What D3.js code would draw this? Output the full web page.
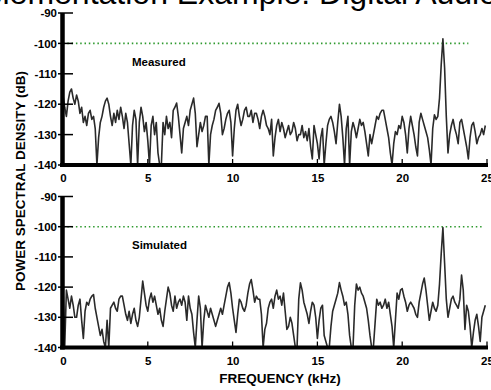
<!DOCTYPE html>
<html>
<head>
<meta charset="utf-8">
<script src="https://cdn.jsdelivr.net/npm/d3@7"></script>
<style>
  html, body { margin: 0; padding: 0; background: #fff; }
  svg { display: block; font-family: "Liberation Sans", Arial, Helvetica, sans-serif; }
</style>
</head>
<body>
<svg id="chart" width="491" height="390"></svg>
<script>
// Frequency grid: 0 to 24.9 kHz in 0.1 kHz steps
const freqStep = 0.1;

// Measured power spectral density (dB), one value per 0.1 kHz
const measured = [
  -117, -121, -124, -119, -116, -115, -118, -120, -117, -119,
  -123, -121, -126, -124, -127, -123, -122, -125, -124, -128,
  -140, -131, -126, -124, -121, -119, -118, -120, -124, -127,
  -123, -126, -122, -125, -121, -124, -128, -123, -126, -133,
  -140, -127, -122, -125, -140, -126, -121, -124, -129, -126,
  -132, -140, -127, -124, -130, -126, -136, -140, -140, -126,
  -130, -124, -128, -126, -131, -122, -121, -119.6, -124, -130,
  -136, -128, -126, -124, -127, -122, -120, -118, -123, -134,
  -130, -126, -129, -127, -124, -124, -140, -130, -127, -125,
  -122, -121, -119.7, -123, -130, -128, -125, -123, -122, -126,
  -137, -128, -122, -120, -124, -127, -125, -122, -121, -124,
  -124, -122, -126, -123, -123, -125, -128, -124, -122, -124,
  -127, -128, -130, -125, -137, -131, -127, -125, -129, -126,
  -128, -131, -129, -127, -130, -129, -126, -128, -132, -130,
  -130, -127, -131, -129, -132, -128, -134, -138, -127, -130,
  -133, -138, -131, -128, -140, -133, -127, -125, -124, -126,
  -129, -133, -126, -120, -124, -131, -140, -128, -124, -140,
  -129, -126, -128, -131, -128, -125, -127, -126, -129, -133,
  -137, -130, -133, -130, -127, -124, -125, -123, -122, -122,
  -125, -128, -131, -136, -140, -133, -129, -130, -127, -128,
  -124, -126, -130, -136, -128, -124, -127, -130, -134, -137,
  -126, -123, -125, -127, -129, -131, -135, -140, -128, -123.5,
  -125, -124, -118, -107, -98.5, -108, -124, -136, -130, -127,
  -125, -128, -130, -133, -126, -125, -128, -131, -134, -138,
  -131, -127, -126, -129, -133, -131, -130, -128, -130, -127
];

// Simulated power spectral density (dB), one value per 0.1 kHz
const simulated = [
  -120, -140, -121, -124, -127, -123, -126, -130, -130, -126,
  -124, -131, -137, -128, -125, -126, -124, -123, -122.5, -127,
  -130, -133, -136, -134, -138, -140, -131, -140, -127, -126,
  -125, -127, -128, -124, -123, -123, -126, -129, -131, -128,
  -132, -129, -127, -131, -133, -130, -124, -118, -122, -126,
  -128, -124, -122, -125, -123, -126, -129, -127, -131, -133,
  -128, -124, -120, -122, -126, -128, -123, -127, -125, -124,
  -126, -123, -125, -131, -123, -127, -129, -135, -140, -131,
  -123, -127, -140, -131, -126, -128, -130, -127, -129, -131,
  -133, -131, -129, -127, -129, -126, -123, -120, -118.5, -122,
  -127, -131, -135, -129, -124, -125, -127, -128, -126, -122,
  -119, -117.5, -121, -125, -123, -124, -124, -129, -140, -134,
  -132, -127, -125, -124, -127, -123, -121, -124, -123, -126,
  -122, -128, -134, -133, -130, -132, -136, -140, -140, -124,
  -118.6, -121, -125, -127, -129, -132, -128, -125, -126, -130,
  -137, -131, -127, -126, -136, -138, -140, -140, -133, -128,
  -126, -124, -122, -118.5, -121, -123, -126, -125, -129, -136,
  -140, -140, -126, -119, -121, -120, -122, -123, -125, -127,
  -131, -136, -140, -140, -132, -124, -126, -125, -127, -126,
  -124, -127, -125, -129, -133, -140, -131, -122, -124, -121,
  -120.5, -123, -125, -128, -126, -125, -126, -127, -129, -130,
  -125, -122, -119, -117, -121, -126, -131, -128, -125, -127,
  -128, -126, -119, -109, -100.3, -112, -124, -130, -127, -124,
  -123, -125, -126, -127, -124, -116, -121, -134, -126, -128,
  -133, -140, -135, -131, -129, -133, -138, -130, -128, -126
];

const xTicks = [0, 5, 10, 15, 20, 25];
const yTicks = [-90, -100, -110, -120, -130, -140];
const referenceLevel = -100;

const panels = [
  { name: "Measured", values: measured, top: 13, bottom: 165, refEnd: 23.9 },
  { name: "Simulated", values: simulated, top: 196.5, bottom: 347.5, refEnd: 24.7 }
];

const svg = d3.select("#chart");

// Page title, partly above the top edge
svg.append("text")
  .attr("x", 497).attr("y", 4)
  .attr("text-anchor", "end")
  .attr("font-size", 32)
  .attr("fill", "#000")
  .text("Implementation Example: Digital Audio");

const x = d3.scaleLinear().domain([0, 25]).range([63, 487]);
const fmt = d => String(d);

panels.forEach(p => {
  const y = d3.scaleLinear().domain([-140, -90]).range([p.bottom, p.top]);
  const g = svg.append("g");

  // reference level
  g.append("line")
    .attr("x1", x(0)).attr("x2", x(p.refEnd))
    .attr("y1", y(referenceLevel)).attr("y2", y(referenceLevel))
    .attr("stroke", "#2f9a2f").attr("stroke-width", 1.6)
    .attr("stroke-dasharray", "1.5,2.8");

  // spectrum trace
  const line = d3.line()
    .x((d, i) => x(i * freqStep))
    .y(d => y(Math.max(-140, d)));
  g.append("path")
    .datum(p.values)
    .attr("d", line)
    .attr("fill", "none")
    .attr("stroke", "#2a2a2a")
    .attr("stroke-width", 1.6)
    .attr("stroke-linejoin", "round");

  // y axis
  const yAxis = d3.axisLeft(y).tickValues(yTicks).tickSize(0).tickPadding(4)
    .tickFormat(fmt);
  const ya = g.append("g").attr("transform", `translate(${x(0) - 2},0)`).call(yAxis);
  ya.select(".domain").remove();
  ya.selectAll("text").attr("font-size", 11.5).attr("font-weight", "bold")
    .attr("font-family", "Liberation Sans, Arial, sans-serif").attr("fill", "#000");
  g.selectAll(".ytick").data(yTicks).enter().append("line")
    .attr("x1", x(0) - 5).attr("x2", x(0) + 10)
    .attr("y1", d => y(d)).attr("y2", d => y(d))
    .attr("stroke", "#000").attr("stroke-width", 1.5);

  // x axis
  const xAxis = d3.axisBottom(x).tickValues(xTicks).tickSize(0).tickPadding(9)
    .tickFormat(fmt);
  const xa = g.append("g").attr("transform", `translate(0,${p.bottom})`).call(xAxis);
  xa.select(".domain").remove();
  xa.selectAll("text").attr("font-size", 11.5).attr("font-weight", "bold")
    .attr("font-family", "Liberation Sans, Arial, sans-serif").attr("fill", "#000");
  g.selectAll(".xtick").data(xTicks.slice(1)).enter().append("line")
    .attr("x1", d => x(d)).attr("x2", d => x(d))
    .attr("y1", p.bottom).attr("y2", p.bottom - 6)
    .attr("stroke", "#000").attr("stroke-width", 1.3);

  // heavy frame lines
  g.append("line")
    .attr("x1", x(0) - 0.5).attr("x2", x(0) - 0.5)
    .attr("y1", p.top).attr("y2", p.bottom + 2)
    .attr("stroke", "#000").attr("stroke-width", 4.5);
  g.append("line")
    .attr("x1", x(0) - 3).attr("x2", x(25) + 1)
    .attr("y1", p.bottom).attr("y2", p.bottom)
    .attr("stroke", "#000").attr("stroke-width", 4);

  // panel label
  g.append("text")
    .attr("x", 132).attr("y", y(-107.5))
    .attr("font-size", 11.5).attr("font-weight", "bold")
    .text(p.name);
});

// axis titles
svg.append("text")
  .attr("transform", "translate(25,181) rotate(-90)")
  .attr("text-anchor", "middle")
  .attr("font-size", 13.5).attr("font-weight", "bold")
  .text("POWER SPECTRAL DENSITY (dB)");

svg.append("text")
  .attr("x", 280).attr("y", 383)
  .attr("text-anchor", "middle")
  .attr("font-size", 13.5).attr("font-weight", "bold")
  .text("FREQUENCY (kHz)");
</script>
</body>
</html>
